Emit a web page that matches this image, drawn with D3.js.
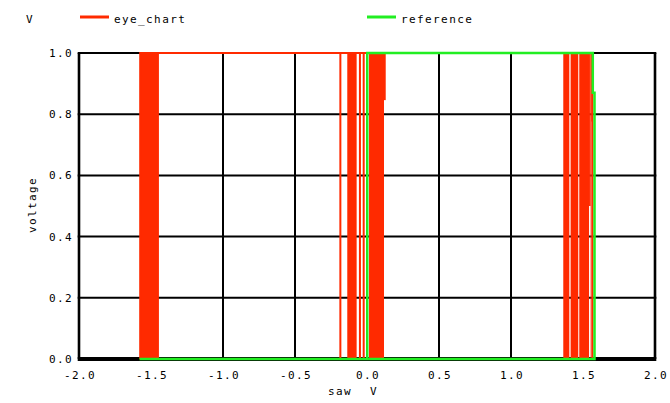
<!DOCTYPE html>
<html>
<head>
<meta charset="utf-8">
<script src="https://cdn.jsdelivr.net/npm/d3@7/dist/d3.min.js"></script>
<style>
  html, body { margin: 0; padding: 0; background: #fff; }
  svg text { font-family: "DejaVu Sans Mono", monospace; font-size: 11px; letter-spacing: 1.4px; fill: #000; }
</style>
</head>
<body>
<svg id="chart" width="670" height="403"></svg>
<script>
// Axis ticks
const xTicks = [-2.0, -1.5, -1.0, -0.5, 0.0, 0.5, 1.0, 1.5, 2.0];
const yTicks = [0.0, 0.2, 0.4, 0.6, 0.8, 1.0];

// reference: one sweep of saw (x) against the reference level (y)
const refSaw = [-1.58, 0.002, 0.002, 1.568, 1.568, 1.58, 1.58, -1.58];
const refV   = [0, 0, 1, 1, 0.87, 0.87, 0, 0];

// eye_chart: outline of the high/low levels over the sweep
const eyeSaw = [-1.575, -1.575, 1.565, 1.565, -1.575];
const eyeV   = [0, 1, 1, 0, 0];

// eye_chart: densely toggling regions [saw0, saw1, vLow, vHigh]
const eyeBands = [
  [-1.575, -1.445, 0, 1],
  [-0.137, -0.072, 0, 1],
  [0.014, 0.118, 0, 1],
  [0.118, 0.130, 0.846, 1],
  [1.363, 1.405, 0, 1],
  [1.414, 1.467, 0, 1],
  [1.474, 1.542, 0, 1],
  [1.542, 1.553, 0.5, 1],
  [1.553, 1.558, 0, 1],
  [1.558, 1.565, 0.776, 1]
];

// eye_chart: isolated single transitions (saw position)
const eyeEdges = [-0.185, -0.049, -0.023];

const RED = "#ff2a00";
const GREEN = "#22ee22";

const svg = d3.select("#chart");
svg.append("rect").attr("width", 670).attr("height", 403).attr("fill", "#fff");

const x = d3.scaleLinear().domain([-2, 2]).range([79, 655]);
const y = d3.scaleLinear().domain([0, 1]).range([359, 53]);

// grid
const grid = svg.append("g");
grid.selectAll(".vg").data(xTicks).join("line")
  .attr("x1", d => x(d)).attr("x2", d => x(d))
  .attr("y1", y(0)).attr("y2", y(1))
  .attr("stroke", "#000")
  .attr("stroke-width", d => (d === -2 || d === 2) ? 2.6 : 2);
grid.selectAll(".hg").data(yTicks).join("line")
  .attr("x1", x(-2) - 1.3).attr("x2", x(2) + 1.3)
  .attr("y1", d => y(d)).attr("y2", d => y(d))
  .attr("stroke", "#000")
  .attr("stroke-width", d => d === 0 ? 4 : 2);

// eye_chart
const plot = svg.append("g");
plot.selectAll(".band").data(eyeBands).join("rect")
  .attr("x", d => x(d[0]))
  .attr("width", d => x(d[1]) - x(d[0]))
  .attr("y", d => y(d[3]))
  .attr("height", d => y(d[2]) - y(d[3]))
  .attr("fill", RED);
plot.selectAll(".edge").data(eyeEdges).join("line")
  .attr("x1", d => x(d)).attr("x2", d => x(d))
  .attr("y1", y(0)).attr("y2", y(1))
  .attr("stroke", RED).attr("stroke-width", 2);

const line = d3.line().x(d => x(d[0])).y(d => y(d[1]));
plot.append("path")
  .datum(eyeSaw.map((s, i) => [s, eyeV[i]]))
  .attr("d", line).attr("fill", "none")
  .attr("stroke", RED).attr("stroke-width", 2);

// reference
plot.append("path")
  .datum(refSaw.map((s, i) => [s, refV[i]]))
  .attr("d", line).attr("fill", "none")
  .attr("stroke", GREEN).attr("stroke-width", 2.5);

// tick labels
svg.selectAll(".yl").data(yTicks).join("text")
  .attr("x", 73).attr("y", d => y(d) + 4)
  .attr("text-anchor", "end")
  .text(d => d.toFixed(1));
svg.selectAll(".xl").data(xTicks).join("text")
  .attr("x", d => x(d) + 1).attr("y", 379)
  .attr("text-anchor", "middle")
  .text(d => d.toFixed(1));

// axis titles
svg.append("text").attr("x", 328).attr("y", 395).text("saw");
svg.append("text").attr("x", 370).attr("y", 395).text("V");
svg.append("text")
  .attr("transform", "translate(36,205) rotate(-90)")
  .attr("text-anchor", "middle")
  .text("voltage");

// legend
svg.append("text").attr("x", 26).attr("y", 23).text("V");
const legend = [["eye_chart", RED, 80], ["reference", GREEN, 367]];
legend.forEach(([name, color, lx]) => {
  svg.append("line").attr("x1", lx).attr("x2", lx + 29)
    .attr("y1", 17).attr("y2", 17)
    .attr("stroke", color).attr("stroke-width", 3);
  svg.append("text").attr("x", lx + 34).attr("y", 23).text(name);
});
</script>
</body>
</html>
